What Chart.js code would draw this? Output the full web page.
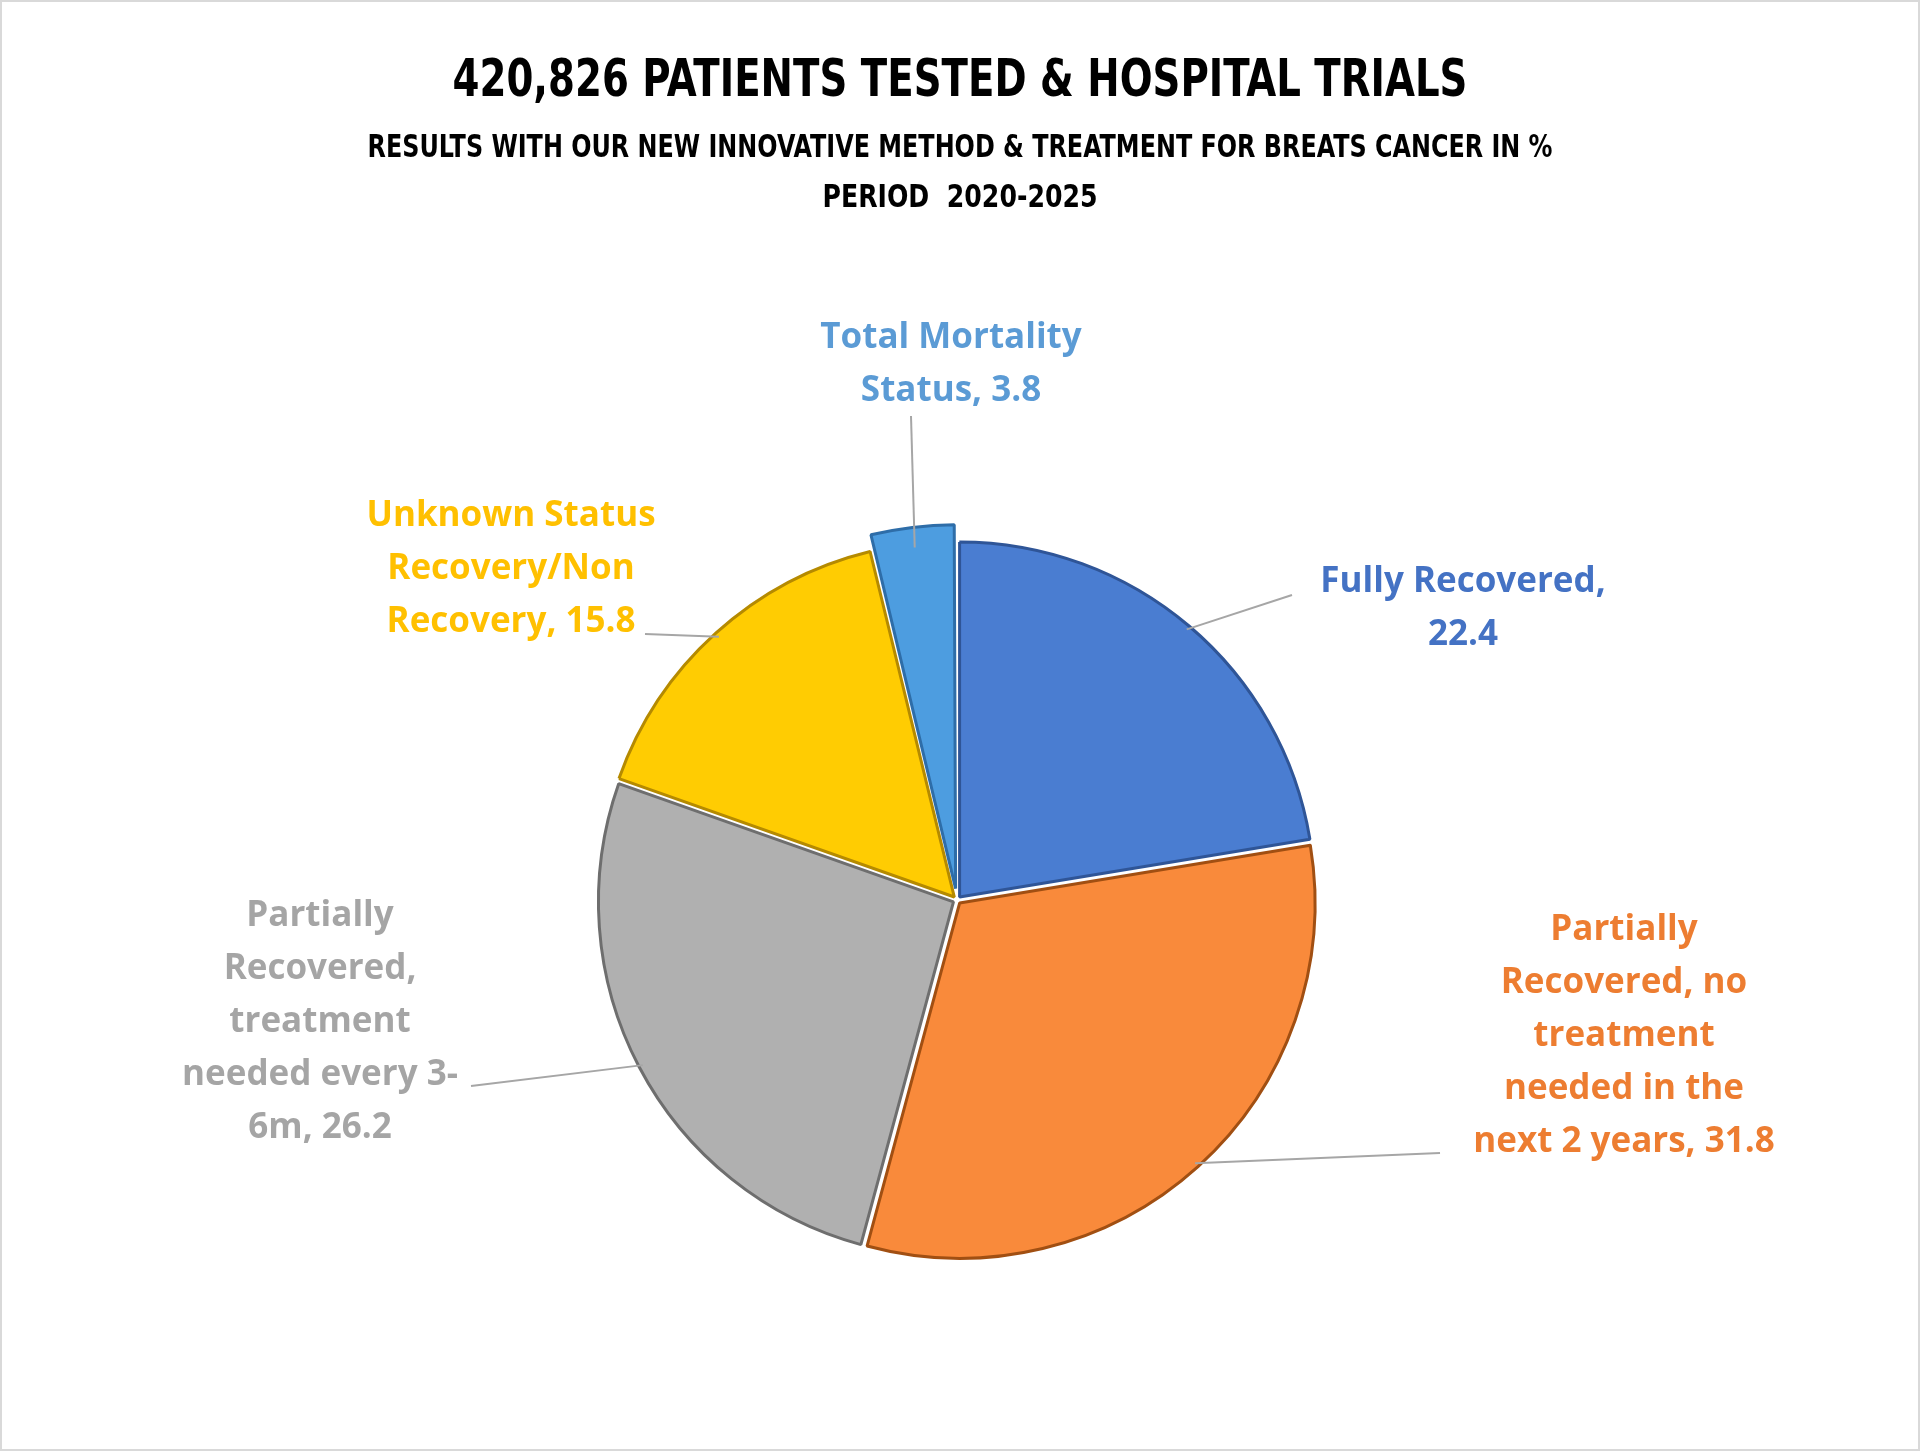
<!DOCTYPE html>
<html>
<head>
<meta charset="utf-8">
<script src="https://cdn.jsdelivr.net/npm/chart.js@4"></script>
<style>
  html, body { margin: 0; padding: 0; background: #fff; }
  #wrap { width: 1916px; height: 1447px; border: 2px solid #d9d9d9; }
</style>
</head>
<body>
<div id="wrap"><canvas id="pie" width="1916" height="1447"></canvas></div>
<script>
const categories = [
    ['Fully Recovered,', '22.4'],
    ['Partially', 'Recovered, no', 'treatment', 'needed in the', 'next 2 years, 31.8'],
    ['Partially', 'Recovered,', 'treatment', 'needed every 3-', '6m, 26.2'],
    ['Unknown Status', 'Recovery/Non', 'Recovery, 15.8'],
    ['Total Mortality', 'Status, 3.8']
];
const values = [22.4, 31.8, 26.2, 15.8, 3.8];
const colors = ['#4a7dd1', '#f98a3b', '#b0b0b0', '#ffcc02', '#4d9de0'];
const textColors = ['#4472c4', '#ed7d31', '#a5a5a5', '#ffc000', '#5b9bd5'];
const titleLines = [
    '420,826 PATIENTS TESTED & HOSPITAL TRIALS',
    'RESULTS WITH OUR NEW INNOVATIVE METHOD & TREATMENT FOR BREATS CANCER IN %',
    'PERIOD  2020-2025'
];

// label centre (x, first line y) and leader line start point, in page pixels
const labelPos = [
    { x: 1461, y: 580, lx: 1290, ly: 593 },
    { x: 1622, y: 928, lx: 1438, ly: 1151 },
    { x: 318, y: 914, lx: 469, ly: 1084 },
    { x: 509, y: 514, lx: 643, ly: 632 },
    { x: 949, y: 336, lx: 909, ly: 414 }
];

const labelPlugin = {
    id: 'labels',
    afterDraw(chart) {
        const ctx = chart.ctx;
        ctx.save();
        // titles
        ctx.fillStyle = '#000';
        ctx.textAlign = 'center';
        ctx.textBaseline = 'middle';
        ctx.font = 'bold 52px "DejaVu Sans Condensed"';
        ctx.fillText(titleLines[0], 958, 80, 1015);
        ctx.font = 'bold 32px "DejaVu Sans Condensed"';
        ctx.fillText(titleLines[1], 958, 147, 1185);
        ctx.fillText(titleLines[2], 958, 197, 275);

        const arcs = chart.getDatasetMeta(0).data;
        ctx.font = 'bold 35px "Open Sans"';
        arcs.forEach((arc, i) => {
            const p = labelPos[i];
            const mid = (arc.startAngle + arc.endAngle) / 2;
            const r = arc.outerRadius;
            const ox = arc.x + Math.cos(mid) * r;
            const oy = arc.y + Math.sin(mid) * r;
            ctx.strokeStyle = '#a6a6a6';
            ctx.lineWidth = 2;
            ctx.beginPath();
            ctx.moveTo(p.lx, p.ly);
            ctx.lineTo(ox, oy);
            ctx.stroke();
            ctx.fillStyle = textColors[i];
            categories[i].forEach((line, j) => {
                ctx.fillText(line, p.x, p.y + j * 53);
            });
        });
        ctx.restore();
    }
};

new Chart(document.getElementById('pie').getContext('2d'), {
    type: 'pie',
    data: {
        labels: categories.map(c => c.join(' ')),
        datasets: [{
            data: values,
            backgroundColor: colors,
            borderColor: ['#2f5597', '#a14f12', '#6e6e6e', '#b58a00', '#2e6da8'],
            borderWidth: 3,
            offset: [16, 16, 16, 16, 46],
            radius: 355
        }]
    },
    options: {
        responsive: false,
        animation: false,
        layout: { padding: { top: 400, bottom: 51, left: 0, right: 6 } },
        plugins: {
            legend: { display: false },
            tooltip: { enabled: false }
        }
    },
    plugins: [labelPlugin]
});
</script>
</body>
</html>
